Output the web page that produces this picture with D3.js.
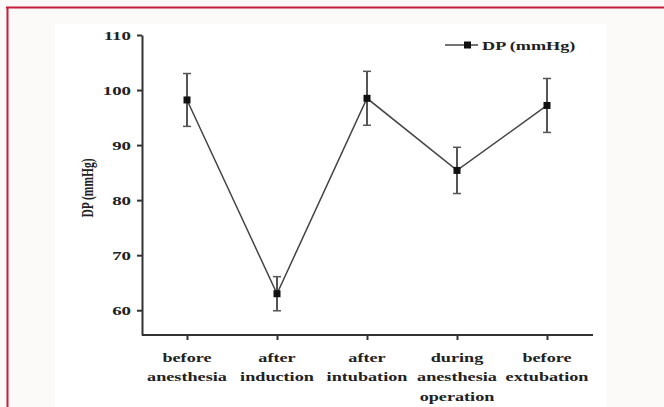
<!DOCTYPE html>
<html lang="en">
<head>
<meta charset="UTF-8">
<title>DP (mmHg)</title>
<style>
  body { margin: 0; background: #fcf9f9; }
  svg { display: block; }
  text { font-family: "Liberation Serif", "DejaVu Serif", serif; font-weight: bold; fill: #222; }
  .axis path, .axis line { stroke: #333; stroke-width: 2px; }
</style>
</head>
<body>
<svg width="664" height="407"></svg>
<script src="https://d3js.org/d3.v7.min.js"></script>
<script>
const categories = [
  ["before", "anesthesia"],
  ["after", "induction"],
  ["after", "intubation"],
  ["during", "anesthesia", "operation"],
  ["before", "extubation"]
];
const dpMean = [98.2, 63.0, 98.5, 85.4, 97.2];
const dpErr  = [4.8, 3.1, 4.9, 4.2, 4.9];
const yTicks = [60, 70, 80, 90, 100, 110];
const seriesName = "DP (mmHg)";

const stretch = 1.4; // the picture is wider than its text

const svg = d3.select("svg");

// page frame
svg.append("rect").attr("x", 55).attr("y", 24).attr("width", 551).attr("height", 383).attr("fill", "#fff");
svg.append("line").attr("x1", 6).attr("x2", 664).attr("y1", 7.5).attr("y2", 7.5)
  .attr("stroke", "#c41e3a").attr("stroke-width", 2);
svg.append("line").attr("x1", 7.5).attr("x2", 7.5).attr("y1", 7).attr("y2", 407)
  .attr("stroke", "#c41e3a").attr("stroke-width", 2);

const keys = categories.map(d => d.join(" "));
const x = d3.scalePoint().domain(keys).range([142, 592]).padding(0.5);
const y = d3.scaleLinear().domain([55.5, 110]).range([335, 35]);

// y axis
const gy = svg.append("g").attr("class", "axis").attr("transform", "translate(142,0)")
  .call(d3.axisLeft(y).tickValues(yTicks).tickSize(5).tickSizeOuter(0));
gy.selectAll(".tick text")
  .attr("font-size", 13.5)
  .attr("x", -11 / stretch)
  .attr("transform", `scale(${stretch},1)`);

// x axis
const gx = svg.append("g").attr("class", "axis").attr("transform", "translate(0,335)")
  .call(d3.axisBottom(x).tickSize(5).tickSizeOuter(0).tickFormat(""));
gx.select(".domain").attr("d", "M142,0H593");

categories.forEach((lines, i) => {
  const t = svg.append("text")
    .attr("text-anchor", "middle")
    .attr("font-size", 13)
    .attr("transform", `translate(${x(keys[i])},362) scale(${stretch},1)`);
  lines.forEach((s, j) => {
    t.append("tspan").attr("x", 0).attr("y", j * 19.5).text(s);
  });
});

// y label
svg.append("text")
  .attr("text-anchor", "middle")
  .attr("font-size", 11.5)
  .attr("transform", `translate(93,188) scale(${stretch},1) rotate(-90)`)
  .text(seriesName);

// line
const pts = dpMean.map((v, i) => [x(keys[i]), y(v)]);
svg.append("path").attr("d", d3.line()(pts))
  .attr("fill", "none").attr("stroke", "#444").attr("stroke-width", 1.5);

// error bars
const eb = svg.append("g").attr("stroke", "#555").attr("stroke-width", 2);
dpMean.forEach((v, i) => {
  const cx = x(keys[i]);
  const top = y(v + dpErr[i]), bot = y(v - dpErr[i]);
  eb.append("line").attr("x1", cx).attr("x2", cx).attr("y1", top).attr("y2", bot);
  eb.append("line").attr("x1", cx - 4).attr("x2", cx + 4).attr("y1", top).attr("y2", top).attr("stroke-width", 1.5);
  eb.append("line").attr("x1", cx - 4).attr("x2", cx + 4).attr("y1", bot).attr("y2", bot).attr("stroke-width", 1.5);
});

// markers
svg.append("g").selectAll("rect").data(pts).join("rect")
  .attr("x", d => d[0] - 3.5).attr("y", d => d[1] - 3.5)
  .attr("width", 7).attr("height", 7).attr("fill", "#111");

// legend
const lg = svg.append("g").attr("transform", "translate(445,45)");
lg.append("line").attr("x1", 0).attr("x2", 33).attr("stroke", "#444").attr("stroke-width", 1.5);
lg.append("rect").attr("x", 19).attr("y", -3.5).attr("width", 7).attr("height", 7).attr("fill", "#111");
lg.append("text").attr("font-size", 13).attr("dy", "0.35em")
  .attr("transform", `translate(37,0) scale(${stretch},1)`)
  .text(seriesName);
</script>
</body>
</html>
